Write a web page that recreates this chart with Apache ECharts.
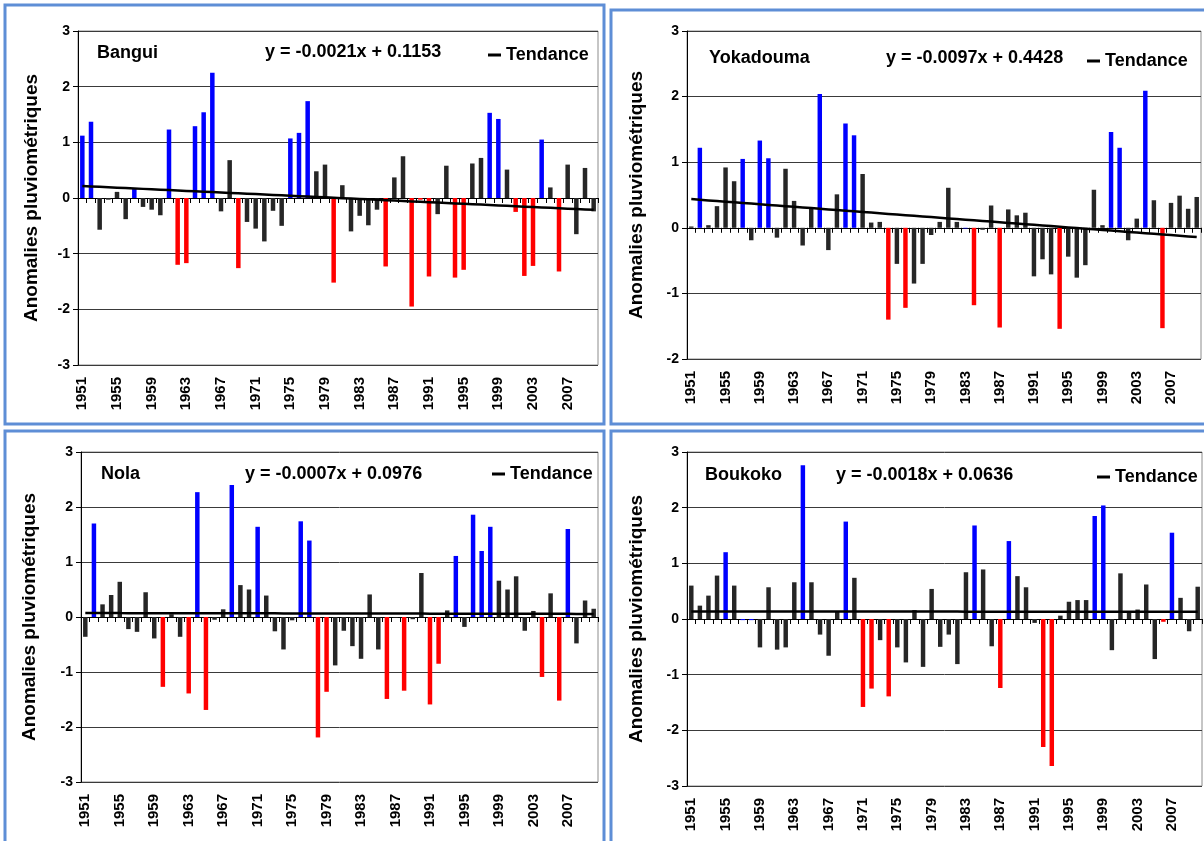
<!DOCTYPE html>
<html>
<head>
<meta charset="utf-8">
<script src="https://cdn.jsdelivr.net/npm/echarts@6/dist/echarts.min.js"></script>
<style>
html,body{margin:0;padding:0;background:#fff;}
#chart{width:1204px;height:841px;}
</style>
</head>
<body>
<div id="chart"></div>
<script>
// ---- data ----
var firstYear = 1951, lastYear = 2010;
var years = [];
for (var yy = firstYear; yy <= lastYear; yy++) years.push(String(yy));

var stationNames = ['Bangui', 'Yokadouma', 'Nola', 'Boukoko'];
var equations = ['y = -0.0021x + 0.1153', 'y = -0.0097x + 0.4428', 'y = -0.0007x + 0.0976', 'y = -0.0018x + 0.0636'];
var yMins = [-3, -2, -3, -3];
var yMaxs = [3, 3, 3, 3];

var banguiValues = [1.12,1.37,-0.57,-0.03,0.11,-0.38,0.16,-0.16,-0.21,-0.31,
1.23,-1.20,-1.17,1.29,1.54,2.25,-0.24,0.68,-1.26,-0.43,
-0.55,-0.78,-0.23,-0.50,1.07,1.17,1.74,0.48,0.60,-1.52,
0.23,-0.60,-0.32,-0.49,-0.21,-1.23,0.37,0.75,-1.95,-0.03,
-1.41,-0.29,0.58,-1.43,-1.29,0.62,0.72,1.53,1.42,0.51,
-0.25,-1.40,-1.22,1.05,0.19,-1.32,0.60,-0.65,0.54,-0.24];
var banguiClasses = 'BBKKKKBKKK' + 'BRRBBBKKRK' + 'KKKKBBBKKR' + 'KKKKKRKKRR' + 'RKKRRKKBBK' + 'RRRBKRKKKK';

var yokadoumaValues = [0.02,1.22,0.04,0.33,0.92,0.71,1.05,-0.19,1.33,1.06,
-0.15,0.90,0.41,-0.27,0.29,2.04,-0.34,0.51,1.59,1.41,
0.82,0.08,0.09,-1.40,-0.55,-1.22,-0.85,-0.55,-0.11,0.09,
0.61,0.09,-0.01,-1.18,-0.03,0.34,-1.52,0.28,0.19,0.23,
-0.74,-0.48,-0.71,-1.54,-0.44,-0.76,-0.57,0.58,0.04,1.46,
1.22,-0.19,0.14,2.09,0.42,-1.53,0.38,0.49,0.29,0.47];
var yokadoumaClasses = 'KBKKKKBKBB' + 'KKKKKBKKBB' + 'KKKRKRKKKK' + 'KKBRKKRKKK' + 'KKKRKKKKKB' + 'BKKBKRKKKK';

var nolaValues = [-0.36,1.70,0.23,0.40,0.64,-0.22,-0.27,0.45,-0.39,-1.27,
0.05,-0.36,-1.39,2.27,-1.69,-0.05,0.14,2.40,0.58,0.50,
1.64,0.39,-0.26,-0.59,-0.06,1.74,1.39,-2.19,-1.36,-0.88,
-0.25,-0.53,-0.76,0.41,-0.59,-1.49,-0.01,-1.34,-0.04,0.80,
-1.59,-0.85,0.12,1.11,-0.18,1.86,1.20,1.64,0.66,0.50,
0.74,-0.25,0.11,-1.09,0.43,-1.52,1.60,-0.48,0.30,0.15];
var nolaClasses = 'KBKKKKKKKR' + 'KKRBRKKBKK' + 'BKKKKBBRRK' + 'KKKKKRKRKK' + 'RRKBKBBBKK' + 'KKKRKRBKKK';

var boukokoValues = [0.60,0.24,0.42,0.78,1.20,0.60,-0.02,-0.02,-0.51,0.57,
-0.55,-0.51,0.66,2.76,0.66,-0.28,-0.66,0.14,1.75,0.74,
-1.58,-1.25,-0.38,-1.39,-0.51,-0.78,0.16,-0.86,0.54,-0.50,
-0.28,-0.81,0.84,1.68,0.89,-0.49,-1.24,1.40,0.77,0.57,
-0.07,-2.30,-2.64,0.06,0.31,0.34,0.34,1.85,2.04,-0.56,
0.82,0.11,0.17,0.62,-0.72,-0.05,1.55,0.38,-0.22,0.58];
var boukokoClasses = 'KKKKBKBBKK' + 'KKKBKKKKBK' + 'RRKRKKKKKK' + 'KKKBKKRBKK' + 'KRRKKKKBBK' + 'KKKKKRBKKK';

var allValues = [banguiValues, yokadoumaValues, nolaValues, boukokoValues];
var allClasses = [banguiClasses, yokadoumaClasses, nolaClasses, boukokoClasses];

// ---- styles / layout ----
var FONT = '"Liberation Sans", Arial, sans-serif';
var classColors = { B: '#0000FF', R: '#FF0000', K: '#262626' };
var grids = [
  { left: 78, top: 31, width: 520, height: 334 },
  { left: 687, top: 31, width: 514, height: 328 },
  { left: 81, top: 452, width: 517, height: 330 },
  { left: 687, top: 452, width: 515, height: 334 }
];
var panels = [
  { x: 5, y: 5, w: 599, h: 419 },
  { x: 611, y: 10, w: 600, h: 414 },
  { x: 5, y: 431, w: 599, h: 420 },
  { x: 611, y: 431, w: 600, h: 420 }
];
var nameGaps = [37, 41, 42, 41];
var labelPos = [
  { name: [97, 44], eq: [265, 43], leg: [483, 41] },
  { name: [709, 49], eq: [886, 49], leg: [1082, 47] },
  { name: [101, 465], eq: [245, 465], leg: [487, 460] },
  { name: [705, 466], eq: [836, 466], leg: [1092, 463] }
];

function linReg(vals) {
  var n = vals.length, sx = 0, sy = 0, sxy = 0, sxx = 0;
  for (var i = 0; i < n; i++) { var x = i + 1; sx += x; sy += vals[i]; sxy += x * vals[i]; sxx += x * x; }
  var b = (n * sxy - sx * sy) / (n * sxx - sx * sx);
  var a = (sy - b * sx) / n;
  return vals.map(function (v, i) { return +(a + b * (i + 1)).toFixed(4); });
}

var option = {
  animation: false,
  backgroundColor: '#fff',
  textStyle: { fontFamily: FONT },
  grid: [], xAxis: [], yAxis: [], series: [], legend: [], graphic: []
};

for (var p = 0; p < 4; p++) {
  var g = grids[p];
  option.grid.push({ left: g.left, top: g.top, width: g.width, height: g.height, show: true, borderColor: '#8c8c8c', borderWidth: 1, containLabel: false });
  // zero-line axis with ticks
  option.xAxis.push({
    type: 'category', gridIndex: p, data: years, boundaryGap: true,
    axisLine: { show: true, onZero: true, lineStyle: { color: '#000', width: 1 } },
    axisTick: { show: true, length: 5, interval: 0, lineStyle: { color: '#000' } },
    axisLabel: { show: false }, splitLine: { show: false }
  });
  // bottom labels axis
  option.xAxis.push({
    type: 'category', gridIndex: p, data: years, position: 'bottom', boundaryGap: true,
    axisLine: { show: false, onZero: false }, axisTick: { show: false },
    axisLabel: { show: true, interval: 3, rotate: 90, margin: 12, fontFamily: FONT, fontWeight: 'bold', fontSize: 15, color: '#000' },
    splitLine: { show: false }
  });
  option.yAxis.push({
    type: 'value', gridIndex: p, min: yMins[p], max: yMaxs[p], interval: 1,
    name: 'Anomalies pluviométriques', nameLocation: 'middle', nameGap: nameGaps[p], nameRotate: 90,
    nameTextStyle: { fontFamily: FONT, fontWeight: 'bold', fontSize: 19, color: '#000' },
    axisLine: { show: true, lineStyle: { color: '#000', width: 1 } },
    axisTick: { show: true, length: 5, lineStyle: { color: '#000' } },
    axisLabel: { fontFamily: FONT, fontWeight: 'bold', fontSize: 14, color: '#000', margin: 8 },
    splitLine: { show: true, lineStyle: { color: '#3a3a3a', width: 1 } }
  });
  var vals = allValues[p], cls = allClasses[p];
  option.series.push({
    type: 'bar', name: stationNames[p], xAxisIndex: p * 2, yAxisIndex: p, barWidth: '52%',
    data: vals.map(function (v, i) { return { value: v, itemStyle: { color: classColors[cls.charAt(i)] } }; }),
    z: 2
  });
  option.series.push({
    type: 'line', name: 'Tendance', xAxisIndex: p * 2, yAxisIndex: p,
    data: linReg(vals), showSymbol: false, symbol: 'none',
    lineStyle: { color: '#000', width: 2.5 }, itemStyle: { color: '#000' }, z: 5
  });
  var lp = labelPos[p];
  option.legend.push({
    data: [{ name: 'Tendance', icon: 'rect' }], left: lp.leg[0], top: lp.leg[1],
    itemWidth: 13, itemHeight: 3, itemGap: 4, selectedMode: false,
    textStyle: { fontFamily: FONT, fontWeight: 'bold', fontSize: 18, color: '#000', padding: [0, 0, 0, 0] }
  });
  option.graphic.push({
    type: 'text', left: lp.name[0], top: lp.name[1],
    style: { text: stationNames[p], font: 'bold 18px ' + FONT, fill: '#000' }
  });
  option.graphic.push({
    type: 'text', left: lp.eq[0], top: lp.eq[1],
    style: { text: equations[p], font: 'bold 18px ' + FONT, fill: '#000' }
  });
  var pn = panels[p];
  option.graphic.push({
    type: 'rect', shape: { x: pn.x, y: pn.y, width: pn.w, height: pn.h },
    style: { fill: 'none', stroke: '#5E8ED6', lineWidth: 3 }, silent: true, z: 10
  });
}

var chart = echarts.init(document.getElementById('chart'), null, { renderer: 'canvas' });
chart.setOption(option);
</script>
</body>
</html>
